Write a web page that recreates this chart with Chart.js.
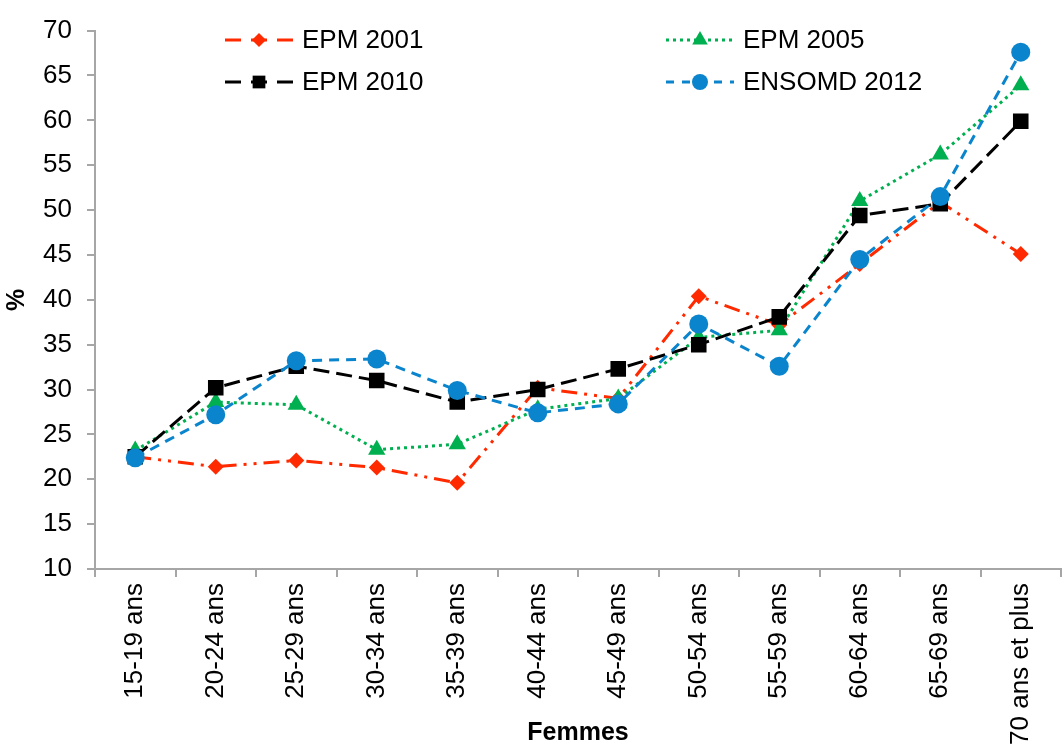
<!DOCTYPE html>
<html>
<head>
<meta charset="utf-8">
<script src="https://cdn.jsdelivr.net/npm/chart.js@4.4.1/dist/chart.umd.min.js"></script>
<style>
    html, body { margin: 0; padding: 0; background: #fff; overflow: hidden; }
    #wrap { width: 1062px; height: 750px; overflow: hidden; position: relative; }
    #lineChart { display: block; position: absolute; left: 0; top: 0; }
</style>
</head>
<body>
<div id="wrap"><canvas id="lineChart" width="1072" height="750" style="width:1072px;height:750px"></canvas></div>
<script>
const categories = ['15-19 ans', '20-24 ans', '25-29 ans', '30-34 ans', '35-39 ans', '40-44 ans',
    '45-49 ans', '50-54 ans', '55-59 ans', '60-64 ans', '65-69 ans', '70 ans et plus'];

const epm2001 = [22.5, 21.4, 22.1, 21.3, 19.6, 30.2, 29.0, 40.4, 37.2, 44.0, 50.9, 45.1];
const epm2005 = [23.2, 28.6, 28.3, 23.3, 23.9, 27.8, 29.0, 35.8, 36.6, 51.0, 56.2, 63.9];
const epm2010 = [22.5, 30.2, 32.6, 31.0, 28.6, 30.0, 32.3, 35.0, 38.1, 49.4, 50.7, 59.9];
const ensomd2012 = [22.4, 27.2, 33.2, 33.4, 29.9, 27.4, 28.4, 37.3, 32.6, 44.5, 51.5, 67.6];

const yTicks = [10, 15, 20, 25, 30, 35, 40, 45, 50, 55, 60, 65, 70];

const FONT = '"Liberation Sans", Arial, sans-serif';

// legend drawn by hand: two columns, two rows inside the plot
const legendPlugin = {
    id: 'boxLegend',
    afterDraw(chart) {
        const ctx = chart.ctx;
        const spots = [
            { ds: 0, x: 225, y: 40 },
            { ds: 1, x: 666, y: 40 },
            { ds: 2, x: 225, y: 82 },
            { ds: 3, x: 666, y: 82 }
        ];
        spots.forEach(s => {
            const d = chart.data.datasets[s.ds];
            ctx.save();
            ctx.strokeStyle = d.borderColor;
            ctx.lineWidth = d.borderWidth;
            ctx.setLineDash(d.legendDash);
            ctx.beginPath();
            ctx.moveTo(s.x, s.y);
            ctx.lineTo(s.x + 68, s.y);
            ctx.stroke();
            ctx.setLineDash([]);
            ctx.fillStyle = d.pointBackgroundColor;
            ctx.strokeStyle = d.pointBorderColor;
            Chart.helpers.drawPoint(ctx, {
                pointStyle: d.pointStyle,
                radius: d.legendRadius,
                rotation: 0,
                borderWidth: 0
            }, s.x + 34, s.y);
            ctx.fillStyle = '#000';
            ctx.font = '26px ' + FONT;
            ctx.textBaseline = 'middle';
            ctx.textAlign = 'left';
            ctx.fillText(d.label, s.x + 77, s.y + 1);
            ctx.restore();
        });
    }
};

function initChart() {
    const ctx = document.getElementById('lineChart');
    new Chart(ctx, {
        type: 'line',
        data: {
            labels: categories,
            datasets: [
                {
                    label: 'EPM 2001',
                    data: epm2001,
                    borderColor: '#ff2a00',
                    backgroundColor: '#ff2a00',
                    pointBackgroundColor: '#ff2a00',
                    pointBorderColor: '#ff2a00',
                    borderWidth: 3,
                    borderDash: [16, 7, 3, 7, 3, 7],
                    legendDash: [16, 10],
                    pointStyle: 'rectRot',
                    pointRadius: 8,
                    legendRadius: 7,
                    pointBorderWidth: 0,
                    order: 3
                },
                {
                    label: 'EPM 2005',
                    data: epm2005,
                    borderColor: '#00b050',
                    backgroundColor: '#00b050',
                    pointBackgroundColor: '#00b050',
                    pointBorderColor: '#00b050',
                    borderWidth: 3,
                    borderDash: [3, 4],
                    legendDash: [3, 4],
                    pointStyle: 'triangle',
                    pointRadius: 10,
                    legendRadius: 9,
                    pointBorderWidth: 0,
                    order: 2
                },
                {
                    label: 'EPM 2010',
                    data: epm2010,
                    borderColor: '#000000',
                    backgroundColor: '#000000',
                    pointBackgroundColor: '#000000',
                    pointBorderColor: '#000000',
                    borderWidth: 3,
                    borderDash: [16, 7],
                    legendDash: [16, 10],
                    pointStyle: 'rect',
                    pointRadius: 11,
                    legendRadius: 9,
                    pointBorderWidth: 0,
                    order: 1
                },
                {
                    label: 'ENSOMD 2012',
                    data: ensomd2012,
                    borderColor: '#0a84cc',
                    backgroundColor: '#0a84cc',
                    pointBackgroundColor: '#0a84cc',
                    pointBorderColor: '#0a84cc',
                    borderWidth: 3,
                    borderDash: [10, 7],
                    legendDash: [8, 8],
                    pointStyle: 'circle',
                    pointRadius: 9.5,
                    legendRadius: 8,
                    pointBorderWidth: 0,
                    order: 0
                }
            ]
        },
        options: {
            responsive: false,
            maintainAspectRatio: false,
            devicePixelRatio: 1,
            animation: false,
            layout: {
                padding: { top: 20, left: 0, right: 0, bottom: 0 }
            },
            plugins: {
                legend: { display: false },
                tooltip: { enabled: false }
            },
            scales: {
                x: {
                    offset: true,
                    grid: {
                        offset: true,
                        drawOnChartArea: false,
                        drawTicks: true,
                        tickLength: 8,
                        color: '#a6a6a6',
                        lineWidth: 2
                    },
                    border: { color: '#a6a6a6', width: 2 },
                    ticks: {
                        color: '#000',
                        autoSkip: false,
                        maxRotation: 90,
                        minRotation: 90,
                        padding: 6,
                        font: { family: FONT, size: 26 }
                    },
                    title: {
                        display: true,
                        text: 'Femmes',
                        color: '#000',
                        padding: { top: 0, bottom: 2 },
                        font: { family: FONT, size: 25, weight: 'bold' }
                    },
                    afterFit(scale) {
                        scale.height = 181;
                    }
                },
                y: {
                    min: 10,
                    max: 70,
                    afterBuildTicks(scale) {
                        scale.ticks = yTicks.map(v => ({ value: v }));
                    },
                    grid: {
                        drawOnChartArea: false,
                        drawTicks: true,
                        tickLength: 8,
                        color: '#a6a6a6',
                        lineWidth: 2
                    },
                    border: { color: '#a6a6a6', width: 2 },
                    ticks: {
                        color: '#000',
                        padding: 15,
                        font: { family: FONT, size: 26 }
                    },
                    title: {
                        display: true,
                        text: '%',
                        color: '#000',
                        padding: { top: 2, bottom: 0 },
                        font: { family: FONT, size: 25, weight: 'bold' }
                    },
                    afterFit(scale) {
                        scale.width = 95;
                    }
                }
            }
        },
        plugins: [legendPlugin]
    });
}

initChart();
</script>
</body>
</html>
